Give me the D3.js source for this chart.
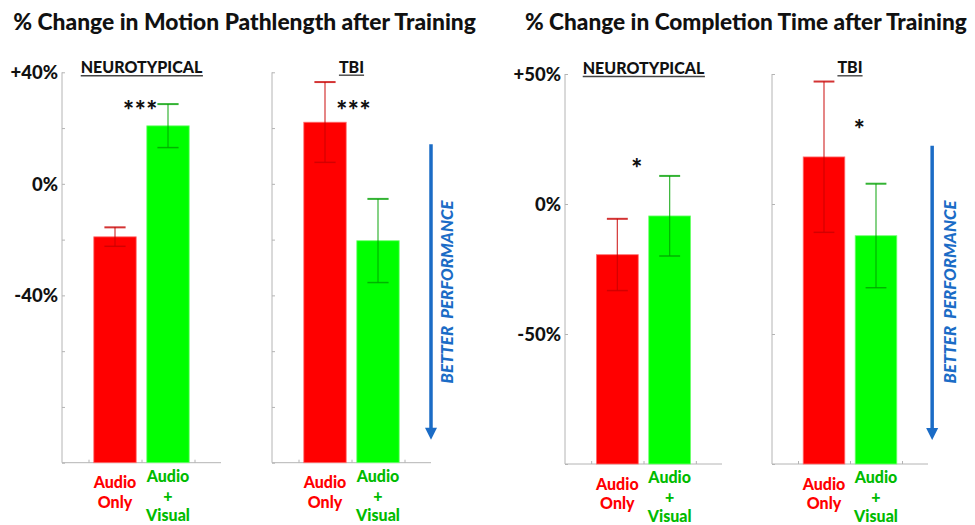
<!DOCTYPE html>
<html>
<head>
<meta charset="utf-8">
<script src="https://cdn.jsdelivr.net/npm/d3@7"></script>
<style>
  html, body { margin: 0; padding: 0; background: #fff; }
  svg { display: block; font-family: Lato, "Open Sans", sans-serif; }
</style>
</head>
<body>
<svg id="chart" width="975" height="525"></svg>
<script>
// ---------------- DATA ----------------
const titles = ["% Change in Motion Pathlength after Training", "% Change in Completion Time after Training"];
const groupNames = ["NEUROTYPICAL", "TBI", "NEUROTYPICAL", "TBI"];
const categoryLines = [["Audio", "Only"], ["Audio", "+", "Visual"]];

const pathlengthNT = [-19.0, 20.8];
const pathlengthNTErr = [3.4, 7.8];
const pathlengthTBI = [22.1, -20.4];
const pathlengthTBIErr = [14.4, 15.0];

const timeNT = [-19.5, -4.6];
const timeNTErr = [13.8, 15.4];
const timeTBI = [18.1, -12.2];
const timeTBIErr = [29.0, 20.0];

const pathTicks = [-100, -80, -60, -40, -20, 0, 20, 40];
const pathLabelValues = [40, 0, -40];
const pathLabelText = ["+40%", "0%", "-40%"];
const timeTicks = [-100, -50, 0, 50];
const timeLabelValues = [50, 0, -50];
const timeLabelText = ["+50%", "0%", "-50%"];

const sigText = ["***", "***", "*", "*"];
const sigX = [1.48, 1.54, 1.37, 1.68];
const sigY = [28.6, 28.6, 16.3, 31.3];

const arrowText = "BETTER  PERFORMANCE";

// ---------------- LAYOUT ----------------
const svg = d3.select("#chart");
const barColors = ["#ff0000", "#00ff00"];
const errColors = ["#c80000", "#00a000"];
const labelColors = ["#ff0000", "#00bb00"];
const arrowColor = "#1b6cc6";
const axisColor = "#b4b4b4";
const W = 900;

const panels = [
  {left: 62, right: 221, top: 72.3, bottom: 462.7, domain: [-100, 40], ticks: pathTicks,
   lv: pathLabelValues, lt: pathLabelText, vals: pathlengthNT, errs: pathlengthNTErr, arrow: false, gy: 73.3},
  {left: 272, right: 431, top: 72.3, bottom: 462.7, domain: [-100, 40], ticks: pathTicks,
   lv: [], lt: [], vals: pathlengthTBI, errs: pathlengthTBIErr, arrow: true, ax: 3.0, at: 14.2, ab: -91.8, tx: 453, gy: 72.7},
  {left: 565, right: 722, top: 74, bottom: 464, domain: [-100, 50], ticks: timeTicks,
   lv: timeLabelValues, lt: timeLabelText, vals: timeNT, errs: timeNTErr, arrow: false, gy: 74},
  {left: 772, right: 928, top: 74, bottom: 464, domain: [-100, 50], ticks: timeTicks,
   lv: [], lt: [], vals: timeTBI, errs: timeTBIErr, arrow: true, ax: 3.08, at: 22.4, ab: -90.8, tx: 956, gy: 73.3}
];

function fitWidth(sel, target) {
  const node = sel.node();
  const fs = parseFloat(sel.attr("font-size"));
  const w = node.getComputedTextLength();
  sel.attr("font-size", fs * target / w);
}

// Titles
const t1 = svg.append("text").attr("x", 13.3).attr("y", 29.5).attr("font-size", 22)
  .attr("font-weight", W).attr("fill", "#111").text(titles[0]);
fitWidth(t1, 463);
const t2 = svg.append("text").attr("x", 525).attr("y", 29.5).attr("font-size", 22)
  .attr("font-weight", W).attr("fill", "#111").text(titles[1]);
fitWidth(t2, 442);

panels.forEach((p, pi) => {
  const g = svg.append("g");
  const x = d3.scaleLinear().domain([0, 3]).range([p.left, p.right]);
  const y = d3.scaleLinear().domain(p.domain).range([p.bottom, p.top]);

  // Y axis (ticks inward)
  const yAxis = d3.axisRight(y).tickValues(p.ticks).tickSize(3).tickFormat("");
  const ya = g.append("g").attr("transform", `translate(${p.left},0)`).call(yAxis);
  ya.selectAll("path, line").attr("stroke", axisColor);
  ya.select("path").attr("d", `M0,${p.top}V${p.bottom}`);

  // X axis (ticks inward)
  const xAxis = d3.axisTop(x).tickValues([0.5, 1.5, 2.5]).tickSize(3).tickFormat("");
  const xa = g.append("g").attr("transform", `translate(0,${p.bottom})`).call(xAxis);
  xa.selectAll("path, line").attr("stroke", axisColor);
  xa.select("path").attr("d", `M${p.left},0H${p.right}`);

  // Y tick labels
  g.selectAll(".ylab").data(p.lv).join("text")
    .attr("x", p.left - 4).attr("y", d => y(d)).attr("dy", "0.36em")
    .attr("text-anchor", "end").attr("font-size", 18.5).attr("font-weight", W).attr("fill", "#111")
    .text((d, i) => p.lt[i]);

  // Bars
  const base = p.domain[0];
  g.selectAll(".bar").data(p.vals).join("rect")
    .attr("x", (d, i) => x(i + 1 - 0.4))
    .attr("width", x(0.8) - x(0))
    .attr("y", d => y(d))
    .attr("height", d => y(base) - y(d))
    .attr("fill", (d, i) => barColors[i])
    .attr("stroke", (d, i) => i === 0 ? "#ff7070" : "#70ff70")
    .attr("stroke-width", 0.8);

  // Error bars
  p.vals.forEach((v, i) => {
    const e = p.errs[i];
    const cx = x(i + 1);
    const hw = (x(0.2) - x(0));
    const eg = g.append("g").attr("stroke", errColors[i]).attr("stroke-opacity", 0.8);
    eg.append("line").attr("x1", cx).attr("x2", cx).attr("y1", y(v + e)).attr("y2", y(v - e)).attr("stroke-width", 1.2);
    eg.append("line").attr("x1", cx - hw).attr("x2", cx + hw).attr("y1", y(v + e)).attr("y2", y(v + e)).attr("stroke-width", 2);
    eg.append("line").attr("x1", cx - hw).attr("x2", cx + hw).attr("y1", y(v - e)).attr("y2", y(v - e)).attr("stroke-width", 1.5);
  });

  // Significance stars
  g.append("text").attr("x", x(sigX[pi])).attr("y", y(sigY[pi])).attr("dy", "0.62em")
    .attr("text-anchor", "middle").attr("font-size", 26).attr("font-weight", W)
    .attr("letter-spacing", sigText[pi].length > 1 ? 0.5 : 0).attr("fill", "#111")
    .text(sigText[pi]);

  // Group label with underline
  const gl = g.append("text").attr("x", (x(1) + x(2)) / 2).attr("y", p.gy)
    .attr("text-anchor", "middle").attr("font-size", 16).attr("font-weight", W).attr("fill", "#111")
    .text(groupNames[pi]);
  const bb = gl.node().getBBox();
  g.append("line").attr("x1", bb.x).attr("x2", bb.x + bb.width)
    .attr("y1", p.gy + 2.5).attr("y2", p.gy + 2.5).attr("stroke", "#444").attr("stroke-width", 1.4);

  // Category labels
  const offsets = [[25.7, 45.2], [19.2, 38.8, 58.4]];
  categoryLines.forEach((lines, i) => {
    g.selectAll(null).data(lines).join("text")
      .attr("x", x(i + 1)).attr("y", (d, j) => p.bottom + offsets[i][j])
      .attr("text-anchor", "middle").attr("font-size", 16).attr("font-weight", W)
      .attr("fill", labelColors[i]).text(d => d);
  });

  // Better performance arrow
  if (p.arrow) {
    const axp = x(p.ax);
    const yt = y(p.at), yb = y(p.ab);
    g.append("line").attr("x1", axp).attr("x2", axp).attr("y1", yt).attr("y2", yb - 10)
      .attr("stroke", arrowColor).attr("stroke-width", 3.5);
    g.append("path").attr("d", `M${axp - 6},${yb - 12}L${axp + 6},${yb - 12}L${axp},${yb}Z`).attr("fill", arrowColor);
    const at = g.append("text").attr("transform", `translate(${p.tx},292) rotate(-90)`)
      .attr("text-anchor", "middle").attr("font-size", 16).attr("font-weight", W)
      .attr("font-style", "italic").attr("fill", arrowColor).attr("xml:space", "preserve")
      .style("white-space", "pre").text(arrowText);
    fitWidth(at, 183);
  }
});
</script>
</body>
</html>
